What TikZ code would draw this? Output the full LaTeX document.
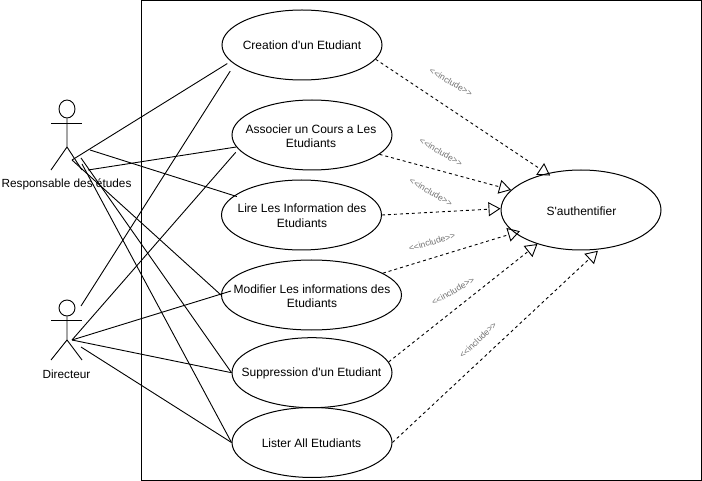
\documentclass[tikz,border=0pt]{standalone}
\usepackage{fontspec}
\setmainfont[Ligatures=TeXOff]{Liberation Sans}
\usetikzlibrary{shapes.geometric,arrows.meta}
\tikzset{
  usecase/.style={draw=black,line width=1pt,ellipse,inner sep=0pt,minimum height=70pt},
  casetext/.style={inner sep=0pt,align=center,font=\fontsize{12}{14.5}\selectfont},
  assoc/.style={draw=black,line width=0.9pt},
  incl/.style={draw=black,line width=0.9pt,dash pattern=on 3pt off 3pt,-{Triangle[open,length=12pt,width=14pt,line width=0.9pt]}},
  incllabel/.style={text=black!55,font=\fontsize{8.7}{10}\selectfont,inner sep=0pt},
  actorlabel/.style={font=\fontsize{11.8}{14}\selectfont,inner sep=0pt},
  actorline/.style={draw=black,line width=0.9pt}
}
\begin{document}
\begin{tikzpicture}[x=1pt,y=-1pt]
\useasboundingbox (0,0) rectangle (702,481);
\fill[white] (0,0) rectangle (702,481);
\draw[line width=1pt] (141.5,0.5) rectangle (701.5,480.5);

% use cases
\node[usecase,minimum width=160pt] (creation) at (302,45) {};
\node[casetext] (tcreation) at (302,45.5) {Creation d'un Etudiant};
\node[usecase,minimum width=160pt] (associer) at (312,135) {};
\node[casetext] (tassocier) at (311,136) {Associer un Cours a Les\\Etudiants};
\node[usecase,minimum width=160pt] (lire) at (301.5,215) {};
\node[casetext] (tlire) at (302,215.5) {Lire Les Information des\\Etudiants};
\node[usecase,minimum width=180pt] (modifier) at (311.5,295) {};
\node[casetext] (tmodifier) at (312,296) {Modifier Les informations des\\Etudiants};
\node[usecase,minimum width=160pt] (suppression) at (312,372.7) {};
\node[casetext] (tsuppression) at (311.5,373) {Suppression d'un Etudiant};
\node[usecase,minimum width=160pt] (lister) at (312,442.5) {};
\node[casetext] (tlister) at (311.5,443) {Lister All Etudiants};
\node[usecase,minimum width=160pt,minimum height=80pt] (auth) at (581,210) {};
\node[casetext] (tauth) at (581.5,211) {S'authentifier};

% actor 1
\node[draw=black,line width=0.9pt,ellipse,minimum width=16pt,minimum height=18pt,inner sep=0pt] (headA) at (67,109) {};
\draw[actorline] (headA.south) -- (67,147) -- (51,170);
\draw[actorline] (67,147) -- (82,170);
\draw[actorline] (51,123.5) -- (82,123.5);
\node[actorlabel] (labelA) at (66.5,184) {Responsable des études};
% actor 2
\node[draw=black,line width=0.9pt,ellipse,minimum width=16pt,minimum height=16pt,inner sep=0pt] (headB) at (67,308) {};
\draw[actorline] (headB.south) -- (67,340) -- (51,360);
\draw[actorline] (67,340) -- (82,360);
\draw[actorline] (51,320.5) -- (82,320.5);
\node[actorlabel] (labelB) at (66.5,374) {Directeur};

% actor ends
\coordinate (a1top) at (72,160);
\coordinate (a1lire) at (90,150);
\coordinate (a1assoc) at (88,170);
\coordinate (a1supp) at (81,158);
\coordinate (a1list) at (82,164);
\coordinate (a2top) at (81,306);
\coordinate (a2mid) at (72,340);
\coordinate (a2low) at (81,347);
\coordinate (modin) at (231,291);

% associations
\draw[assoc,shorten >=4pt] (a1top) -- (creation.193.65);
\draw[assoc] (a1assoc) -- (associer.189);
\draw[assoc,shorten >=-3pt] (a1lire) -- (lire.164.3);
\draw[assoc] (a1top) -- (modifier.180);
\draw[assoc] (a1supp) -- (suppression.180);
\draw[assoc] (a1list) -- (lister.180);
\draw[assoc,shorten >=8pt] (a2top) -- (creation.196.1);
\draw[assoc,shorten >=4pt] (a2mid) -- (associer.191.7);
\draw[assoc] (a2mid) -- (modin);
\draw[assoc] (a2mid) -- (suppression.180);
\draw[assoc] (a2low) -- (lister.180);

% includes
\draw[incl,shorten >=-4pt] (creation.349.4) -- (auth.133.2);
\draw[incl] (associer.344.8) -- (auth.164.7);
\draw[incl] (lire.0) -- (auth.179);
\draw[incl,shorten >=-5.6pt] (modifier.17.8) -- (auth.199.2);
\draw[incl] (suppression.8) -- (auth.218.1);
\draw[incl,shorten >=2pt] (lister.0) -- (auth.295.7);

% labels
\node[incllabel,rotate=-30] (l1) at (451,82) {<<include>>};
\node[incllabel,rotate=-30] (l2) at (441,152) {<<include>>};
\node[incllabel,rotate=-30] (l3) at (431,192) {<<include>>};
\node[incllabel,rotate=16] (l4) at (432,242) {<<include>>};
\node[incllabel,rotate=30] (l5) at (453,291) {<<include>>};
\node[incllabel,rotate=44] (l6) at (478,340) {<<include>>};
\end{tikzpicture}
\end{document}
